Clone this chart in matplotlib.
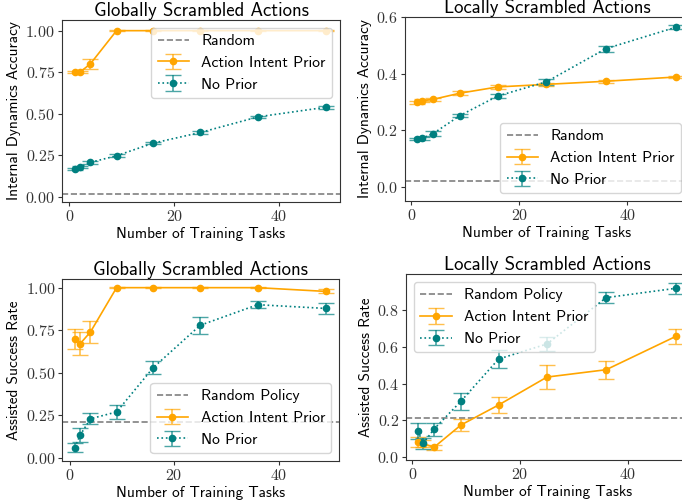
import matplotlib
matplotlib.use("Agg")
import matplotlib.pyplot as plt

plt.rcParams['font.family'] = ['cmss10', 'DejaVu Sans']
plt.rcParams['axes.formatter.use_mathtext'] = True
plt.rcParams['mathtext.fontset'] = 'cm'

tasks = [1, 2, 4, 9, 16, 25, 36, 49]

# internal dynamics accuracy, globally scrambled
glob_dyn_prior = [0.75, 0.75, 0.80, 1.0, 1.0, 1.0, 1.0, 1.0]
glob_dyn_prior_err = [0.005, 0.005, 0.032, 0.003, 0.003, 0.003, 0.003, 0.003]
glob_dyn_none = [0.17, 0.178, 0.208, 0.248, 0.324, 0.388, 0.482, 0.54]
glob_dyn_none_err = [0.006, 0.006, 0.008, 0.008, 0.008, 0.008, 0.008, 0.008]

# internal dynamics accuracy, locally scrambled
loc_dyn_prior = [0.299, 0.304, 0.309, 0.331, 0.353, 0.362, 0.373, 0.388]
loc_dyn_prior_err = [0.005, 0.005, 0.006, 0.006, 0.006, 0.006, 0.005, 0.005]
loc_dyn_none = [0.169, 0.172, 0.188, 0.252, 0.321, 0.371, 0.488, 0.564]
loc_dyn_none_err = [0.005, 0.005, 0.008, 0.006, 0.008, 0.01, 0.01, 0.008]

# assisted success rate, globally scrambled
glob_succ_prior = [0.70, 0.67, 0.74, 1.0, 1.0, 1.0, 1.0, 0.978]
glob_succ_prior_err = [0.058, 0.068, 0.063, 0.003, 0.003, 0.003, 0.003, 0.012]
glob_succ_none = [0.06, 0.133, 0.23, 0.27, 0.53, 0.779, 0.90, 0.878]
glob_succ_none_err = [0.027, 0.04, 0.031, 0.04, 0.038, 0.049, 0.022, 0.03]

# assisted success rate, locally scrambled
loc_succ_prior = [0.082, 0.073, 0.053, 0.174, 0.283, 0.435, 0.475, 0.657]
loc_succ_prior_err = [0.025, 0.02, 0.015, 0.032, 0.046, 0.066, 0.049, 0.04]
loc_succ_none = [0.141, 0.074, 0.152, 0.303, 0.533, 0.615, 0.867, 0.918]
loc_succ_none_err = [0.045, 0.03, 0.035, 0.047, 0.047, 0.04, 0.028, 0.03]

random_dyn = 0.02
random_succ = 0.21

orange = '#FFA500'
teal = '#008080'

fig = plt.figure(figsize=(6.82, 5.03), dpi=100)

panels = [
    dict(pos=[0.0909, 0.5984, 0.4076, 0.3618], title='Globally Scrambled Actions',
         ylabel='Internal Dynamics Accuracy', prior=glob_dyn_prior, prior_err=glob_dyn_prior_err,
         none=glob_dyn_none, none_err=glob_dyn_none_err, rnd=random_dyn, rlabel='Random',
         ylim=(-0.03, 1.064), yticks=[0, 0.25, 0.5, 0.75, 1.0], xlim=(-1.4, 51.6), loc='upper right'),
    dict(pos=[0.5938, 0.6004, 0.4164, 0.3658], title='Locally Scrambled Actions',
         ylabel='Internal Dynamics Accuracy', prior=loc_dyn_prior, prior_err=loc_dyn_prior_err,
         none=loc_dyn_none, none_err=loc_dyn_none_err, rnd=random_dyn, rlabel='Random',
         ylim=(-0.05, 0.6), yticks=[0, 0.2, 0.4, 0.6], xlim=(-1.2, 51.4), loc='lower right'),
    dict(pos=[0.0913, 0.0835, 0.406, 0.3612], title='Globally Scrambled Actions',
         ylabel='Assisted Success Rate', prior=glob_succ_prior, prior_err=glob_succ_prior_err,
         none=glob_succ_none, none_err=glob_succ_none_err, rnd=random_succ, rlabel='Random Policy',
         ylim=(-0.018, 1.049), yticks=[0, 0.25, 0.5, 0.75, 1.0], xlim=(-1.4, 51.6), loc='lower right'),
    dict(pos=[0.5953, 0.0855, 0.415, 0.3692], title='Locally Scrambled Actions',
         ylabel='Assisted Success Rate', prior=loc_succ_prior, prior_err=loc_succ_prior_err,
         none=loc_succ_none, none_err=loc_succ_none_err, rnd=random_succ, rlabel='Random Policy',
         ylim=(-0.016, 0.994), yticks=[0, 0.2, 0.4, 0.6, 0.8], xlim=(-1.2, 51.4), loc='upper left'),
]

for p in panels:
    ax = fig.add_axes(p['pos'])
    ax.axhline(p['rnd'], color='gray', ls='--', lw=1.2, label=p['rlabel'])
    for vals, errs, col, ls, lab in [(p['prior'], p['prior_err'], orange, '-', 'Action Intent Prior'),
                                     (p['none'], p['none_err'], teal, ':', 'No Prior')]:
        cont = ax.errorbar(tasks, vals, yerr=errs, color=col, ls=ls, lw=1.2, marker='o',
                           markersize=4.5, capsize=6, elinewidth=1.2, label=lab)
        for c in cont[1]:
            c.set_alpha(0.7)
        for c in cont[2]:
            c.set_alpha(0.7)
    ax.set_xlim(*p['xlim'])
    ax.set_ylim(*p['ylim'])
    ax.set_yticks(p['yticks'])
    ax.set_xticks([0, 20, 40])
    for s in ax.spines.values():
        s.set_color('#333333')
    ax.tick_params(length=3, pad=2, color='#333333')
    for lbl in ax.get_xticklabels() + ax.get_yticklabels():
        lbl.set_fontfamily('cmr10')
        lbl.set_fontsize(11.5)
        lbl.set_color('#333333')
    ax.set_title(p['title'], fontsize=13.5, pad=2)
    ax.set_xlabel('Number of Training Tasks', fontsize=11, labelpad=2)
    ax.set_ylabel(p['ylabel'], fontsize=11, labelpad=3)
    ax.legend(loc=p['loc'], fontsize=11.3, framealpha=0.8)

fig.savefig('out.png', dpi=100)
